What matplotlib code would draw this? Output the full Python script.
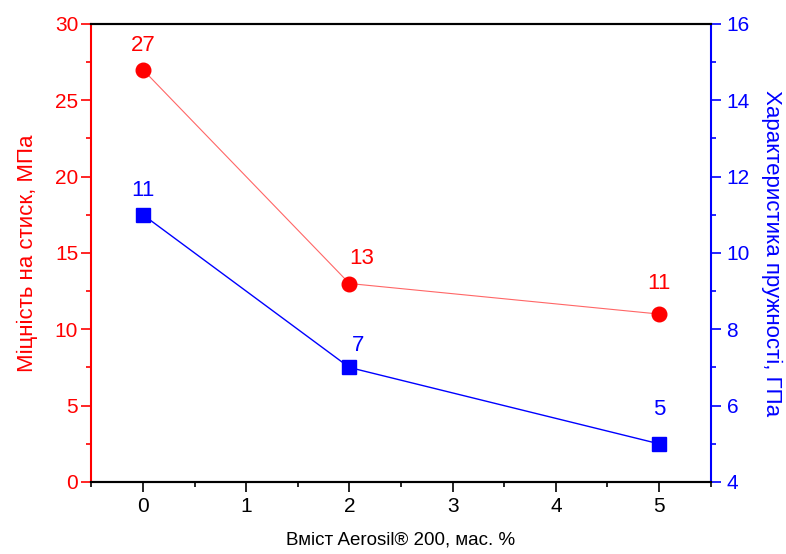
import matplotlib
matplotlib.use("Agg")
import matplotlib.pyplot as plt
from matplotlib.ticker import MultipleLocator

plt.rcParams['font.family'] = ['Liberation Sans', 'DejaVu Sans']

x = [0, 2, 5]
strength = [27, 13, 11]
modulus = [11, 7, 5]
xlabel = "Вміст Aerosil® 200, мас. %"
ylabel_left = "Міцність на стиск, МПа"
ylabel_right = "Характеристика пружності, ГПа"

# label offsets (points) relative to the markers
red_offsets = [(0, 13.7), (8.6, 13.7), (0, 18)]
blue_offsets = [(0, 13.7), (6.5, 12.2), (0, 20.9)]

fig = plt.figure(figsize=(7.86, 5.54), dpi=100)
ax = fig.add_axes([0.1163, 0.1300, 0.7878, 0.8267])
ax2 = ax.twinx()

red = '#ff0000'
blue = '#0000ff'

ax.plot(x, strength, color=red, lw=0.8, alpha=0.6, zorder=2)
ax.plot(x, strength, 'o', color=red, ms=10.5, zorder=3)
ax2.plot(x, modulus, color=blue, lw=1.0, zorder=2)
ax2.plot(x, modulus, 's', color=blue, ms=9.5, zorder=3)

for xi, v, off in zip(x, strength, red_offsets):
    ax.annotate(f"{v}", (xi, v), xytext=off, textcoords='offset points',
                ha='center', va='baseline', color=red, fontsize=16)
for xi, v, off in zip(x, modulus, blue_offsets):
    ax2.annotate(f"{v}", (xi, v), xytext=off, textcoords='offset points',
                 ha='center', va='baseline', color=blue, fontsize=16)

ax.set_xlim(-0.5, 5.5)
ax.set_ylim(0, 30)
ax2.set_ylim(4, 16)

ax.xaxis.set_major_locator(MultipleLocator(1))
ax.xaxis.set_minor_locator(MultipleLocator(0.5))
ax.yaxis.set_major_locator(MultipleLocator(5))
ax.yaxis.set_minor_locator(MultipleLocator(2.5))
ax2.yaxis.set_major_locator(MultipleLocator(2))
ax2.yaxis.set_minor_locator(MultipleLocator(1))

ax.tick_params(axis='x', which='major', direction='out', length=7, width=1.2, labelsize=15, colors='black', pad=4)
ax.tick_params(axis='x', which='minor', direction='out', length=3.5, width=1.2)
ax.tick_params(axis='y', which='major', direction='out', length=7, width=1.2, labelsize=15, colors=red, pad=2.5)
ax.tick_params(axis='y', which='minor', direction='out', length=3.5, width=1.2, colors=red)
ax2.tick_params(axis='y', which='major', direction='out', length=7, width=1.2, labelsize=15, colors=blue, pad=4.5)
ax2.tick_params(axis='y', which='minor', direction='out', length=3.5, width=1.2, colors=blue)

for a in (ax, ax2):
    a.spines['top'].set_color('black')
    a.spines['bottom'].set_color('black')
    for s in a.spines.values():
        s.set_linewidth(1.5)
ax.spines['left'].set_color(red)
ax2.spines['left'].set_visible(False)
ax.spines['right'].set_visible(False)
ax2.spines['right'].set_color(blue)

ax.set_xlabel(xlabel, fontsize=13.5, labelpad=11)
ax.set_ylabel(ylabel_left, fontsize=16, color=red, labelpad=12)
ax2.set_ylabel(ylabel_right, fontsize=16, color=blue, rotation=270, va='bottom', labelpad=8)

fig.savefig("out.png", dpi=100)
